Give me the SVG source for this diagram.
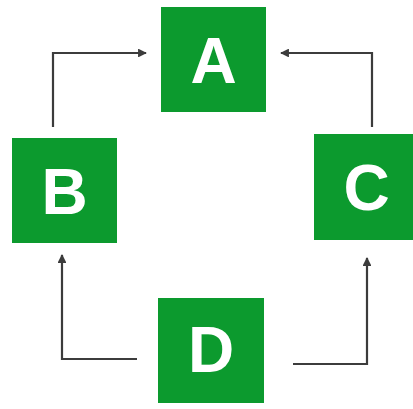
<svg xmlns="http://www.w3.org/2000/svg" width="413" height="409" viewBox="0 0 413 409">
<style>
.box{fill:#0c9a2e}
.lbl{fill:#fff;font-family:"Liberation Sans",Arial,sans-serif;font-weight:bold;font-size:64px;text-anchor:middle}
.conn{fill:none;stroke:#3c3c3c;stroke-width:2.2;marker-end:url(#ah)}
</style>
<defs>
<marker id="ah" viewBox="0 0 10 10" refX="9" refY="5" markerWidth="4" markerHeight="4" markerUnits="strokeWidth" orient="auto">
<path d="M0,0 L10,5 L0,10 z" fill="#3c3c3c"/>
</marker>
</defs>
<rect width="413" height="409" fill="#fff"/>
<g id="connectors">
<path class="conn" d="M53,127 V53 H146"/>
<path class="conn" d="M372,127 V53 H281"/>
<path class="conn" d="M137,359 H62 V255"/>
<path class="conn" d="M293,364 H367 V258"/>
</g>
<g id="node-A"><rect class="box" x="161" y="7" width="105" height="105"/><text class="lbl" x="213.5" y="83">A</text></g>
<g id="node-B"><rect class="box" x="12" y="138" width="105" height="105"/><text class="lbl" x="64.5" y="214">B</text></g>
<g id="node-C"><rect class="box" x="314" y="134" width="105" height="106"/><text class="lbl" x="366.5" y="210">C</text></g>
<g id="node-D"><rect class="box" x="158" y="298" width="106" height="105"/><text class="lbl" x="211" y="372">D</text></g>
</svg>
